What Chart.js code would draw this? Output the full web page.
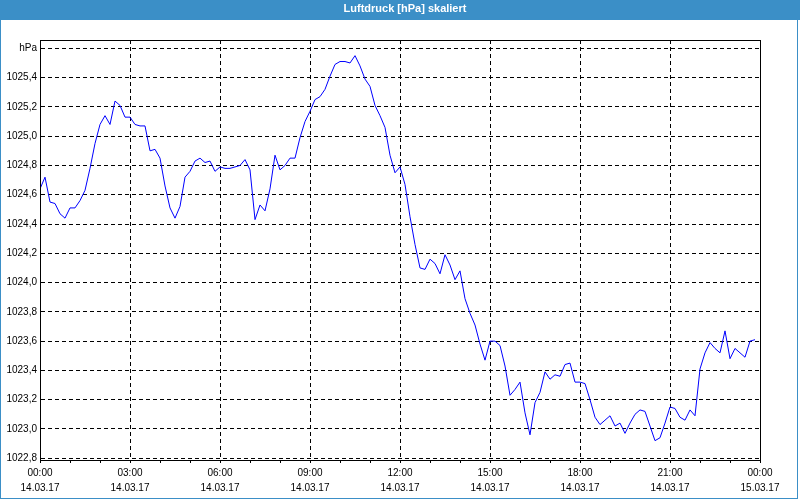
<!DOCTYPE html>
<html>
<head>
<meta charset="utf-8">
<title>Luftdruck [hPa] skaliert</title>
<script src="https://cdn.jsdelivr.net/npm/chart.js@4.4.1/dist/chart.umd.min.js"></script>
<style>
    html, body { margin: 0; padding: 0; background: #fff; }
    canvas { display: block; }
</style>
</head>
<body>
<canvas id="pressure_chart" width="800" height="500"></canvas>
<script>
const chartTitle = 'Luftdruck [hPa] skaliert';

// Messwerte alle 10 Minuten ab 14.03.17 00:00
const sampleMinutes = 10;
const pressure = [
    1024.64, 1024.72, 1024.55, 1024.54, 1024.47, 1024.44, 1024.51, 1024.51, 1024.56, 1024.63,
    1024.78, 1024.95, 1025.08, 1025.14, 1025.08, 1025.24, 1025.21, 1025.13, 1025.13, 1025.08,
    1025.07, 1025.07, 1024.90, 1024.91, 1024.85, 1024.66, 1024.51, 1024.44, 1024.52, 1024.72,
    1024.76, 1024.83, 1024.85, 1024.82, 1024.83, 1024.76, 1024.79, 1024.78, 1024.78, 1024.79,
    1024.80, 1024.84, 1024.77, 1024.43, 1024.53, 1024.49, 1024.64, 1024.87, 1024.77, 1024.80,
    1024.85, 1024.85, 1024.99, 1025.10, 1025.17, 1025.25, 1025.27, 1025.32, 1025.41, 1025.49,
    1025.51, 1025.51, 1025.50, 1025.55, 1025.48, 1025.39, 1025.34, 1025.21, 1025.14, 1025.06,
    1024.87, 1024.75, 1024.79, 1024.67, 1024.45, 1024.26, 1024.10, 1024.09, 1024.16, 1024.13,
    1024.06, 1024.19, 1024.12, 1024.02, 1024.08, 1023.89, 1023.79, 1023.71, 1023.58, 1023.47,
    1023.60, 1023.60, 1023.57, 1023.43, 1023.23, 1023.27, 1023.32, 1023.11, 1022.96, 1023.18,
    1023.25, 1023.39, 1023.34, 1023.37, 1023.36, 1023.44, 1023.45, 1023.32, 1023.32, 1023.31,
    1023.20, 1023.08, 1023.03, 1023.06, 1023.09, 1023.02, 1023.04, 1022.97, 1023.04, 1023.10,
    1023.13, 1023.12, 1023.02, 1022.92, 1022.94, 1023.04, 1023.15, 1023.14, 1023.08, 1023.06,
    1023.13, 1023.09, 1023.41, 1023.52, 1023.59, 1023.55, 1023.52, 1023.67, 1023.48, 1023.55,
    1023.52, 1023.49, 1023.60, 1023.61
];

const hourTicks = [0, 1, 2, 3, 4, 5, 6, 7, 8, 9, 10, 11, 12, 13, 14, 15, 16, 17, 18, 19, 20, 21, 22, 23, 24];
const labelHours = [0, 3, 6, 9, 12, 15, 18, 21, 24];
const labelTimes = ['00:00', '03:00', '06:00', '09:00', '12:00', '15:00', '18:00', '21:00', '00:00'];
const labelDates = ['14.03.17', '14.03.17', '14.03.17', '14.03.17', '14.03.17', '14.03.17', '14.03.17', '14.03.17', '15.03.17'];

const yTicks = [1022.8, 1023.0, 1023.2, 1023.4, 1023.6, 1023.8, 1024.0, 1024.2, 1024.4, 1024.6, 1024.8, 1025.0, 1025.2, 1025.4, 1025.6];
const yMin = 1022.788;
const yMax = 1025.657;
const unitLabel = 'hPa';

const points = pressure.map((v, i) => ({ x: i * sampleMinutes / 60, y: v }));

const frame = {
    id: 'frame',
    beforeDraw(chart) {
        const ctx = chart.ctx;
        ctx.save();
        ctx.fillStyle = '#fff';
        ctx.fillRect(0, 0, chart.width, chart.height);
        ctx.fillStyle = '#3b8fc7';
        ctx.fillRect(0, 0, chart.width, 20);
        ctx.strokeStyle = '#3b8fc7';
        ctx.lineWidth = 1;
        ctx.strokeRect(0.5, 0.5, chart.width - 3, chart.height - 2);
        ctx.fillStyle = '#fff';
        ctx.font = 'bold 11px "Liberation Sans", Arial, sans-serif';
        ctx.textAlign = 'center';
        ctx.textBaseline = 'middle';
        ctx.fillText(chartTitle, 405, 9);
        ctx.restore();
    },
    afterDraw(chart) {
        const a = chart.chartArea;
        const ctx = chart.ctx;
        ctx.save();
        ctx.strokeStyle = '#000';
        ctx.lineWidth = 1;
        ctx.strokeRect(Math.round(a.left) + 0.5, Math.round(a.top) + 0.5, Math.round(a.right - a.left), Math.round(a.bottom - a.top));
        ctx.restore();
    }
};

const tickFont = { family: '"Liberation Sans", Arial, sans-serif', size: 10, lineHeight: '15px' };

new Chart(document.getElementById('pressure_chart'), {
    type: 'line',
    data: {
        datasets: [{
            data: points,
            borderColor: '#0000ff',
            borderWidth: 1,
            pointRadius: 0,
            tension: 0,
            fill: false
        }]
    },
    options: {
        responsive: false,
        animation: false,
        layout: { padding: { top: 40, left: 0, right: 40, bottom: 0 } },
        plugins: {
            legend: { display: false },
            title: { display: false },
            tooltip: { enabled: false }
        },
        scales: {
            x: {
                type: 'linear',
                min: 0,
                max: 24,
                afterBuildTicks: scale => { scale.ticks = hourTicks.map(v => ({ value: v })); },
                afterFit: scale => { scale.height = 40; },
                ticks: {
                    autoSkip: false,
                    maxRotation: 0,
                    padding: 3,
                    color: '#000',
                    font: tickFont,
                    callback: value => {
                        const k = labelHours.indexOf(value);
                        return k < 0 ? '' : [labelTimes[k], labelDates[k]];
                    }
                },
                grid: {
                    color: ctx => (ctx.tick && labelHours.includes(ctx.tick.value)) ? '#000' : 'rgba(0,0,0,0)',
                    tickColor: '#000',
                    tickLength: 3,
                    lineWidth: 1
                },
                border: { color: '#000', width: 1, dash: [4, 3] }
            },
            y: {
                min: yMin,
                max: yMax,
                afterBuildTicks: scale => { scale.ticks = yTicks.map(v => ({ value: v })); },
                afterFit: scale => { scale.width = 40; },
                ticks: {
                    padding: 3,
                    color: '#000',
                    font: tickFont,
                    callback: value => Math.abs(value - 1025.6) < 0.001 ? unitLabel : value.toFixed(1).replace('.', ',')
                },
                grid: {
                    color: '#000',
                    drawTicks: false,
                    lineWidth: 1
                },
                border: { color: '#000', width: 1, dash: [4, 3] }
            }
        }
    },
    plugins: [frame]
});
</script>
</body>
</html>
